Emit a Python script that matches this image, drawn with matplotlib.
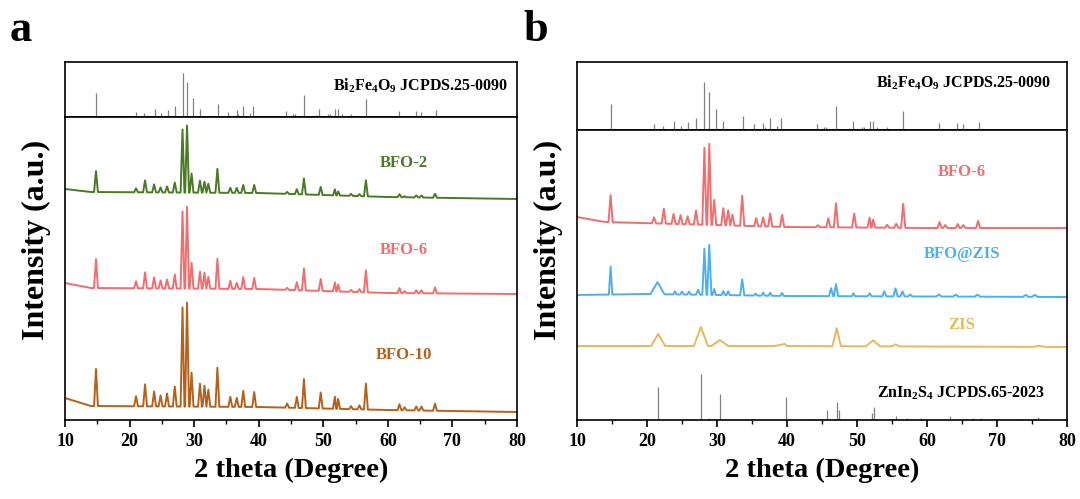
import numpy as np
import matplotlib
matplotlib.use('Agg')
import matplotlib.pyplot as plt

plt.rcParams['font.family'] = 'Liberation Serif'
plt.rcParams['font.weight'] = 'bold'
plt.rcParams['mathtext.fontset'] = 'custom'
plt.rcParams['mathtext.rm'] = 'Liberation Serif:bold'
plt.rcParams['mathtext.it'] = 'Liberation Serif:bold'
plt.rcParams['mathtext.bf'] = 'Liberation Serif:bold'

# ---- reference patterns (sticks) ----
bfo_ref_pos = [14.8, 21.0, 22.3, 23.9, 24.9, 25.9, 27.0, 28.2, 28.9, 29.8, 30.9,
               33.7, 34.0, 35.3, 36.6, 36.8, 37.5, 38.6, 39.1, 44.3, 45.3, 45.6,
               47.0, 48.8, 49.4, 50.7, 51.0, 51.8, 52.3, 52.9, 54.3, 55.2, 56.6,
               57.7, 58.7, 61.7, 64.3, 65.2, 66.3, 67.4]
bfo_ref_int = [54, 12, 8, 19, 8, 16, 25, 100, 79, 44, 19,
               29, 3, 12, 15, 7, 24, 8, 24, 13, 7, 7,
               50, 5, 19, 7, 7, 19, 19, 7, 7, 3, 40,
               2, 2, 14, 14, 12, 3, 16]
zis_ref_pos = [18.0, 21.6, 26.6, 27.7, 28.8, 30.4, 34.7, 39.8, 43.8, 45.7, 47.2,
               47.4, 52.1, 52.4, 55.6, 57.2, 59.2, 63.3, 66.5, 67.7, 73.0, 75.8, 77.0]
zis_ref_int = [1, 33, 1, 46, 2, 26, 1, 23, 1, 10, 18,
               10, 7, 13, 4, 2, 2, 4, 2, 2, 1, 3, 1]

# ---- measured curves: background points + peak list (a.u.) ----
bfo_pos = [14.8, 21.0, 22.4, 23.8, 24.8, 25.8, 27.0, 28.2, 28.9, 29.6, 30.9,
           31.6, 32.2, 33.6, 35.6, 36.6, 37.6, 39.3, 44.4, 45.9, 47.0, 49.6,
           51.8, 52.3, 54.3, 55.6, 56.6, 61.8, 62.6, 64.4, 65.2, 67.3]

bfo2_bg_x = [10, 14, 40, 60, 80]
bfo2_bg_y = [231, 228, 227, 223, 221]
bfo2_int = [21, 4, 12, 8, 5, 6, 10, 63, 67, 19, 12,
            11, 9, 24, 5, 5, 8, 8, 2, 5, 16, 8,
            6, 4, 2, 2, 16, 3, 1, 2, 2, 4]

bfo6a_bg_x = [10, 14, 40, 60, 80]
bfo6a_bg_y = [137, 132, 131, 127, 126]
bfo6a_int = [29, 7, 16, 11, 8, 9, 14, 77, 82, 26, 17,
             16, 12, 30, 8, 6, 12, 11, 2, 8, 22, 12,
             9, 7, 2, 3, 22, 5, 2, 3, 3, 6]

bfo10_bg_x = [10, 14, 40, 60, 80]
bfo10_bg_y = [22, 14, 13, 10, 8]
bfo10_int = [37, 10, 22, 15, 11, 13, 20, 99, 104, 34, 23,
             21, 17, 39, 10, 9, 16, 15, 4, 11, 29, 16,
             12, 10, 3, 4, 26, 6, 3, 4, 4, 7]

bfo6b_bg_x = [10, 14, 40, 60, 80]
bfo6b_bg_y = [203, 198, 193, 192, 192]
bfo6b_int = [27, 6, 15, 10, 9, 8, 14, 77, 81, 25, 17,
             15, 11, 30, 8, 9, 13, 12, 2, 9, 24, 14,
             10, 8, 3, 4, 24, 6, 3, 4, 3, 7]

bz_bg_x = [10, 20, 40, 80]
bz_bg_y = [125, 126, 124, 123]
bz_pos = [14.8, 21.5, 24.0, 25.0, 26.0, 27.3, 28.2, 28.9, 29.6, 30.9, 31.6,
          33.6, 35.5, 36.6, 37.6, 39.3, 46.3, 47.0, 49.5, 51.8, 53.9, 55.5,
          56.5, 57.6, 61.7, 64.1, 67.2, 74.1, 75.4]
bz_int = [28, 12, 3, 3, 3, 5, 46, 50, 6, 4, 4,
          16, 2, 3, 3, 3, 8, 12, 3, 3, 5, 8,
          5, 2, 2, 2, 2, 2, 2]
bz_half = [0.25, 1.0, 0.25, 0.25, 0.25, 0.3, 0.3, 0.3, 0.25, 0.25, 0.25,
           0.3, 0.25, 0.25, 0.25, 0.25, 0.3, 0.3, 0.25, 0.3, 0.3, 0.3,
           0.3, 0.3, 0.4, 0.4, 0.4, 0.4, 0.4]

zis_bg_x = [10, 40, 80]
zis_bg_y = [74, 74, 73]
zis_pos = [21.6, 27.7, 30.4, 39.7, 47.1, 52.3, 55.5, 76.0]
zis_int = [12, 19, 6, 2, 18, 6, 2, 1]
zis_half = [1.0, 1.0, 1.2, 1.5, 0.6, 1.0, 0.6, 1.0]

c_green = '#4b7a24'
c_pink = '#f26d6d'
c_brown = '#b5611c'
c_blue = '#4cb0f0'
c_yellow = '#e9b85c'
c_stick = '#808080'


def make_curve(bg_x, bg_y, pos, height, half):
    pos = np.asarray(pos, float)
    xs = np.unique(np.concatenate([bg_x, pos - half, pos, pos + half]))
    ys = np.interp(xs, bg_x, bg_y)
    for p, h in zip(pos, height):
        ys[np.isclose(xs, p)] += h
    return xs, ys


def style_main(ax):
    ax.set_xlim(10, 80)
    ax.set_xticks(range(10, 81, 10))
    ax.set_xticks(range(15, 80, 10), minor=True)
    ax.set_yticks([])
    ax.tick_params(axis='x', which='major', direction='out', length=5, width=1.2,
                   labelsize=13, pad=4)
    ax.tick_params(axis='x', which='minor', direction='out', length=3, width=1.0)
    for lbl in ax.get_xticklabels():
        lbl.set_fontweight('bold')
    for s in ax.spines.values():
        s.set_linewidth(1.2)


def style_top(ax):
    ax.set_xlim(10, 80)
    ax.set_xticks([])
    ax.set_yticks([])
    for s in ax.spines.values():
        s.set_linewidth(1.2)


fig = plt.figure(figsize=(10.8, 4.99), dpi=100)
W, H = 1080, 499
axa_top = fig.add_axes([65 / W, 1 - 117 / H, 452 / W, 55 / H])
axa = fig.add_axes([65 / W, 1 - 420 / H, 452 / W, 303 / H])
axb_top = fig.add_axes([577 / W, 1 - 130 / H, 490 / W, 68 / H])
axb = fig.add_axes([577 / W, 1 - 420 / H, 490 / W, 290 / H])

# -- panel a
axa_top.vlines(bfo_ref_pos, 0, bfo_ref_int, color=c_stick, lw=0.9)
axa_top.set_ylim(0, 125)
axa_top.text(0.98, 0.56, r'Bi$_2$Fe$_4$O$_9$ JCPDS.25-0090', transform=axa_top.transAxes,
             ha='right', va='center', fontsize=11.5)
style_top(axa_top)

x, y = make_curve(bfo2_bg_x, bfo2_bg_y, bfo_pos, bfo2_int, 0.3)
axa.plot(x, y, color=c_green, lw=1.4)
x, y = make_curve(bfo6a_bg_x, bfo6a_bg_y, bfo_pos, bfo6a_int, 0.3)
axa.plot(x, y, color=c_pink, lw=1.4)
x, y = make_curve(bfo10_bg_x, bfo10_bg_y, bfo_pos, bfo10_int, 0.3)
axa.plot(x, y, color=c_brown, lw=1.4)
axa.text(62.5, 257, 'BFO-2', color=c_green, ha='center', va='center', fontsize=12)
axa.text(62.5, 170, 'BFO-6', color=c_pink, ha='center', va='center', fontsize=12)
axa.text(62.5, 65, 'BFO-10', color=c_brown, ha='center', va='center', fontsize=12)
axa.set_ylim(0, 303)
style_main(axa)

# -- panel b
axb_top.vlines(bfo_ref_pos, 0, bfo_ref_int, color=c_stick, lw=0.9)
axb_top.set_ylim(0, 141)
axb_top.text(0.969, 0.70, r'Bi$_2$Fe$_4$O$_9$ JCPDS.25-0090', transform=axb_top.transAxes,
             ha='right', va='center', fontsize=11.5)
style_top(axb_top)

x, y = make_curve(bfo6b_bg_x, bfo6b_bg_y, bfo_pos, bfo6b_int, 0.3)
axb.plot(x, y, color=c_pink, lw=1.4)
x, y = make_curve(bz_bg_x, bz_bg_y, bz_pos, bz_int, np.array(bz_half))
axb.plot(x, y, color=c_blue, lw=1.4)
x, y = make_curve(zis_bg_x, zis_bg_y, zis_pos, zis_int, np.array(zis_half))
axb.plot(x, y, color=c_yellow, lw=1.4)
axb.vlines(zis_ref_pos, 0, zis_ref_int, color=c_stick, lw=0.9)
axb.text(65.0, 248, 'BFO-6', color=c_pink, ha='center', va='center', fontsize=12)
axb.text(65.0, 166, 'BFO@ZIS', color=c_blue, ha='center', va='center', fontsize=12)
axb.text(65.0, 95, 'ZIS', color=c_yellow, ha='center', va='center', fontsize=12)
axb.text(0.955, 27, r'ZnIn$_2$S$_4$ JCPDS.65-2023', transform=axb.get_yaxis_transform(),
         ha='right', va='center', fontsize=11.5)
axb.set_ylim(0, 290)
style_main(axb)

# -- labels
for xc, yl in [(291, 36), (822, 548)]:
    fig.text(xc / W, 1 - 470 / H, '2 theta (Degree)', ha='center', va='center', fontsize=20.5)
    fig.text(yl / W, 1 - 240 / H, 'Intensity (a.u.)', rotation=90,
             ha='center', va='center', fontsize=23)
fig.text(21 / W, 1 - 30 / H, 'a', ha='center', va='center', fontsize=32)
fig.text(536 / W, 1 - 30 / H, 'b', ha='center', va='center', fontsize=32)

fig.savefig('out.png', dpi=100)
